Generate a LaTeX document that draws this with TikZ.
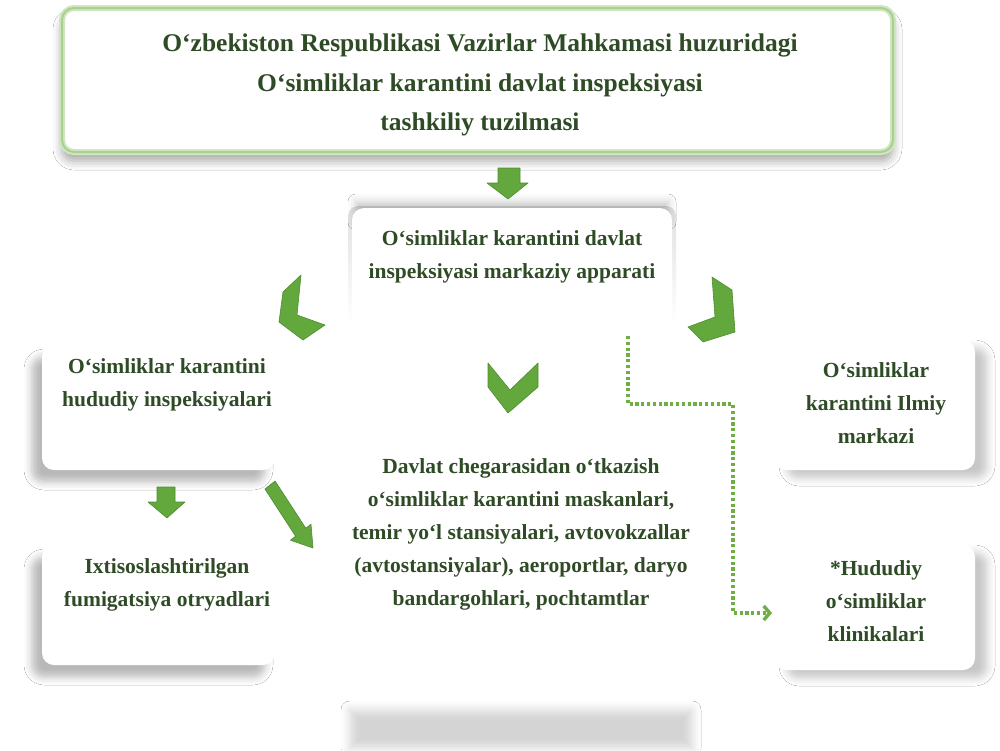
\documentclass[tikz,border=0pt]{standalone}
\usepackage{fontspec}
\setmainfont{Liberation Serif}
\usetikzlibrary{shadows.blur,arrows.meta,fadings}
\definecolor{txtgreen}{HTML}{2E4B26}
\definecolor{arrgreen}{HTML}{62A83C}
\definecolor{arredge}{HTML}{4F8C30}
\definecolor{glow}{HTML}{A9D18E}
\definecolor{dotgreen}{HTML}{6FAE45}
\begin{document}
\begin{tikzpicture}[x=1pt,y=-1pt,
  lbl/.style={font=\bfseries\fontsize{21.5}{33}\selectfont, text=txtgreen, align=center, inner sep=0pt},
  card/.style={fill=white, rounded corners=12pt, inner sep=0pt, outer sep=0pt},
  shadowdown/.style={blur shadow={shadow xshift=0pt, shadow yshift=-9pt, shadow blur radius=9pt, shadow opacity=35}},
  shadowleft/.style={blur shadow={shadow xshift=-10pt, shadow yshift=-12pt, shadow blur radius=8pt, shadow opacity=28}},
  shadowright/.style={blur shadow={shadow xshift=12pt, shadow yshift=-8pt, shadow blur radius=8pt, shadow opacity=22}},
  blockarrow/.style={fill=arrgreen, draw=arredge, line width=0.6pt, line join=round},
  dotline/.style={draw=dotgreen, line width=3.4pt, dash pattern=on 3.2pt off 2.6pt}
]
\useasboundingbox (0,0) rectangle (1000,750);
\fill[white] (0,0) rectangle (1000,750);

% bottom shadow bar of the central panel
\path[blur shadow={shadow xshift=0pt, shadow yshift=0pt, shadow blur radius=9pt, shadow opacity=17}]
  (350,710) rectangle (692,748);
% top shadow of the central panel: soft band on top, fading side strips
\path[blur shadow={shadow xshift=0pt, shadow yshift=0pt, shadow blur radius=8pt, shadow opacity=22}]
  (356,202) rectangle (668,222);
\fill[black, opacity=0.12, rounded corners=10pt, path fading=south] (348,206) rectangle (676,325);

% boxes
\node[card, minimum width=320pt, minimum height=492pt] (ctr) at (512,454) {};
\node[card, shadowdown, draw=glow!55, line width=6pt, minimum width=831pt, minimum height=144pt] (top) at (477.5,80) {};
\draw[glow, line width=2pt, rounded corners=12pt] (top.north west) rectangle (top.south east);
\node[card, shadowleft, minimum width=233pt, minimum height=125pt] (lt) at (158.5,407.5) {};
\node[card, shadowleft, minimum width=233pt, minimum height=120pt] (lb) at (158.5,605) {};
\node[card, shadowright, minimum width=200pt, minimum height=130pt] (rt) at (875,405) {};
\node[card, shadowright, minimum width=200pt, minimum height=125pt] (rb) at (875,607.5) {};

% block arrows
\filldraw[blockarrow] (498,168) -- (520,168) -- (520,183) -- (528,183) -- (508,199) -- (487,183) -- (498,183) -- cycle;
\filldraw[blockarrow] (301,275) -- (283,292) -- (279,322) -- (303,340) -- (325,325) -- (297,315) -- cycle;
\filldraw[blockarrow] (712,277) -- (732,290) -- (735,332) -- (703,342) -- (688,327) -- (715,317) -- cycle;
\filldraw[blockarrow] (488,363) -- (488,387) -- (508,413) -- (538,387) -- (538,363) -- (510,390) -- cycle;
\filldraw[blockarrow] (157,487) -- (175,487) -- (175,502) -- (185,502) -- (167,518) -- (148,502) -- (157,502) -- cycle;
\filldraw[blockarrow] (264.9,489) -- (275.1,481) -- (305.8,528.2) -- (311,524.2) -- (313,548) -- (290.4,540.2) -- (295.6,536.2) -- cycle;

% texts
\node[lbl, font=\bfseries\fontsize{25.5}{39.5}\selectfont] (ttop) at (480,85)
  {O‘zbekiston Respublikasi Vazirlar Mahkamasi huzuridagi\\O‘simliklar karantini davlat inspeksiyasi\\tashkiliy tuzilmasi};
\node[lbl] (tctr) at (512,257) {O‘simliklar karantini davlat\\inspeksiyasi markaziy apparati};
\node[lbl] (tlt) at (167,385) {O‘simliklar karantini\\hududiy inspeksiyalari};
\node[lbl] (tlb) at (167,585) {Ixtisoslashtirilgan\\fumigatsiya otryadlari};
\node[lbl] (tmid) at (521,534) {Davlat chegarasidan o‘tkazish\\o‘simliklar karantini maskanlari,\\temir yo‘l stansiyalari, avtovokzallar\\(avtostansiyalar), aeroportlar, daryo\\bandargohlari, pochtamtlar};
\node[lbl] (trt) at (876,403) {O‘simliklar\\karantini Ilmiy\\markazi};
\node[lbl] (trb) at (876,601) {*Hududiy\\o‘simliklar\\klinikalari};

% dotted connector
\coordinate (dstart) at (628,336);
\coordinate (dmid) at (733,404);
\coordinate (dend) at (772,613);
\draw[dotline, -{Straight Barb[length=6pt,width=14pt]}] (dstart) |- (dmid) |- (dend);
\end{tikzpicture}
\end{document}
